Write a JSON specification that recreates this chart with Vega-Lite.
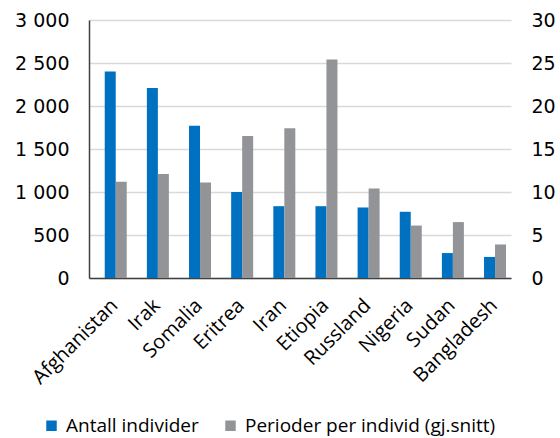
{
  "$schema": "https://vega.github.io/schema/vega-lite/v6.json",
  "width": 422,
  "height": 258,
  "autosize": {"type": "none"},
  "padding": {"left": 89, "top": 20, "right": 49, "bottom": 160},
  "background": "white",
  "config": {
    "font": "Open Sans",
    "view": {"stroke": null}
  },
  "data": {
    "values": [
      {"land": "Afghanistan", "serie": "Antall individer", "verdi": 2400},
      {"land": "Afghanistan", "serie": "Perioder per individ (gj.snitt)", "verdi": 11.2},
      {"land": "Irak", "serie": "Antall individer", "verdi": 2210},
      {"land": "Irak", "serie": "Perioder per individ (gj.snitt)", "verdi": 12.1},
      {"land": "Somalia", "serie": "Antall individer", "verdi": 1770},
      {"land": "Somalia", "serie": "Perioder per individ (gj.snitt)", "verdi": 11.1},
      {"land": "Eritrea", "serie": "Antall individer", "verdi": 1000},
      {"land": "Eritrea", "serie": "Perioder per individ (gj.snitt)", "verdi": 16.5},
      {"land": "Iran", "serie": "Antall individer", "verdi": 835},
      {"land": "Iran", "serie": "Perioder per individ (gj.snitt)", "verdi": 17.4},
      {"land": "Etiopia", "serie": "Antall individer", "verdi": 835},
      {"land": "Etiopia", "serie": "Perioder per individ (gj.snitt)", "verdi": 25.4},
      {"land": "Russland", "serie": "Antall individer", "verdi": 820},
      {"land": "Russland", "serie": "Perioder per individ (gj.snitt)", "verdi": 10.4},
      {"land": "Nigeria", "serie": "Antall individer", "verdi": 770},
      {"land": "Nigeria", "serie": "Perioder per individ (gj.snitt)", "verdi": 6.1},
      {"land": "Sudan", "serie": "Antall individer", "verdi": 290},
      {"land": "Sudan", "serie": "Perioder per individ (gj.snitt)", "verdi": 6.5},
      {"land": "Bangladesh", "serie": "Antall individer", "verdi": 245},
      {"land": "Bangladesh", "serie": "Perioder per individ (gj.snitt)", "verdi": 3.9}
    ]
  },
  "encoding": {
    "x": {
      "field": "land",
      "type": "nominal",
      "sort": null,
      "title": null,
      "scale": {"paddingInner": 0.478, "paddingOuter": 0.2456, "align": 0.76},
      "axis": {
        "labelAngle": -45,
        "labelFontSize": 20,
        "labelColor": "#000000",
        "labelPadding": 17,
        "labelOffset": -8,
        "ticks": false,
        "domainColor": "#404040",
        "domainWidth": 1.5,
        "grid": false
      }
    },
    "xOffset": {
      "field": "serie",
      "type": "nominal",
      "scale": {"domain": ["Antall individer", "Perioder per individ (gj.snitt)"], "paddingInner": 0, "paddingOuter": 0}
    },
    "color": {
      "field": "serie",
      "type": "nominal",
      "scale": {"domain": ["Antall individer", "Perioder per individ (gj.snitt)"], "range": ["#0070C0", "#929497"]},
      "legend": {
        "title": null,
        "orient": "none",
        "direction": "horizontal",
        "legendX": -47,
        "legendY": 396,
        "symbolType": "square",
        "symbolSize": 110,
        "symbolStrokeWidth": 0,
        "labelFontSize": 19,
        "labelColor": "#000000",
        "labelOffset": 5,
        "columnPadding": 22,
        "labelLimit": 400
      }
    }
  },
  "layer": [
    {
      "transform": [{"filter": "datum.serie === 'Antall individer'"}],
      "mark": {"type": "bar"},
      "encoding": {
        "y": {
          "field": "verdi",
          "type": "quantitative",
          "title": null,
          "scale": {"domain": [0, 3000], "nice": false},
          "axis": {
            "orient": "left",
            "values": [0, 500, 1000, 1500, 2000, 2500, 3000],
            "labelExpr": "replace(format(datum.value, ','), ',', ' ')",
            "labelFont": "DejaVu Sans",
            "labelFontSize": 19,
            "labelColor": "#000000",
            "labelPadding": 20,
            "ticks": false,
            "domain": true,
            "domainColor": "#404040",
            "domainWidth": 1.5,
            "grid": true,
            "gridColor": "#d9d9d9",
            "gridWidth": 1.5
          }
        }
      }
    },
    {
      "transform": [{"filter": "datum.serie === 'Perioder per individ (gj.snitt)'"}],
      "mark": {"type": "bar"},
      "encoding": {
        "y": {
          "field": "verdi",
          "type": "quantitative",
          "title": null,
          "scale": {"domain": [0, 30], "nice": false},
          "axis": {
            "orient": "right",
            "values": [0, 5, 10, 15, 20, 25, 30],
            "labelFont": "DejaVu Sans",
            "labelFontSize": 19,
            "labelColor": "#000000",
            "labelPadding": 20,
            "ticks": false,
            "domain": false,
            "grid": false
          }
        }
      }
    }
  ],
  "resolve": {"scale": {"y": "independent"}}
}
